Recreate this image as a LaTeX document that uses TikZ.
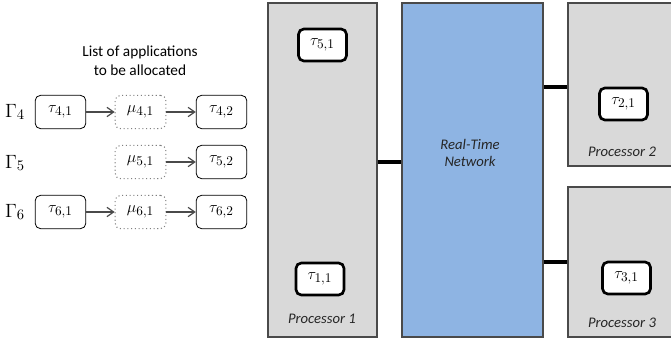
\documentclass[tikz,border=0pt]{standalone}
\usepackage{fontspec}
\setmainfont{Carlito}
\usetikzlibrary{arrows.meta}
\DeclareMathSizes{13}{13}{10}{8}

\definecolor{procgray}{HTML}{D9D9D9}
\definecolor{netblue}{HTML}{8EB4E3}
\definecolor{edgegray}{HTML}{4A4A4A}

\tikzset{
  proc/.style={draw=edgegray, fill=procgray, line width=0.8pt, inner sep=0pt},
  netbox/.style={draw=edgegray, fill=netblue, line width=0.8pt, inner sep=0pt},
  task/.style={draw=black, fill=white, rounded corners=4pt, line width=2pt,
    minimum width=36pt, minimum height=24pt, inner sep=0pt,
    font=\fontsize{13}{15}\selectfont},
  apptask/.style={draw=black, rounded corners=4pt, line width=0.6pt,
    minimum width=38pt, minimum height=25pt, inner sep=0pt,
    font=\fontsize{13}{15}\selectfont},
  msg/.style={draw=gray, dotted, rounded corners=4pt, line width=0.8pt,
    minimum width=38pt, minimum height=25pt, inner sep=0pt,
    font=\fontsize{13}{15}\selectfont},
  flow/.style={draw=edgegray, line width=0.9pt, -{Straight Barb[length=5pt,width=7pt]}},
  link/.style={line width=3pt, black},
  plabel/.style={font=\fontsize{11}{13}\selectfont\itshape, text=black!85},
}

\begin{document}
\begin{tikzpicture}[x=0.75pt, y=-0.75pt]
\useasboundingbox (0,0) rectangle (671,338);

% Processors and network
\node[proc, minimum width=81.75pt, minimum height=250.5pt] (p1) at (322.5,170) {};
\node[netbox, minimum width=105.75pt, minimum height=250.5pt] (net) at (472.5,170) {};
\node[proc, minimum width=78.75pt, minimum height=122.25pt] (p2) at (620.5,84.5) {};
\node[proc, minimum width=78.75pt, minimum height=112.5pt] (p3) at (620.5,262) {};

\node[plabel, align=center] (netlbl) at (470,153) {Real-Time\\Network};
\node[plabel] (p1lbl) at (322,319) {Processor 1};
\node[plabel] (p2lbl) at (622,152) {Processor 2};
\node[plabel] (p3lbl) at (622,323) {Processor 3};

% Links
\draw[link] ([yshift=6pt]p1.east) -- ([yshift=6pt]p1.east -| net.west);
\draw[link] ([yshift=-2pt]p2.west -| net.east) -- ([yshift=-2pt]p2.west);
\draw[link] (p3.west -| net.east) -- (p3.west);

% Allocated tasks
\node[task] (t51) at (322.5,45) {$\tau_{5,1}$};
\node[task] (t11) at (320,279) {$\tau_{1,1}$};
\node[task] (t21) at (623.5,104) {$\tau_{2,1}$};
\node[task] (t31) at (626.5,278) {$\tau_{3,1}$};

% Applications to be allocated
\node[align=center, font=\fontsize{11.5}{14}\selectfont] (title) at (140,61)
  {List of applications\\to be allocated};

\node[font=\fontsize{15}{17}\selectfont] (g4) at (15,112) {$\Gamma_4$};
\node[font=\fontsize{15}{17}\selectfont] (g5) at (15,163) {$\Gamma_5$};
\node[font=\fontsize{15}{17}\selectfont] (g6) at (15,212) {$\Gamma_6$};

\node[apptask] (a41) at (60.5,112) {$\tau_{4,1}$};
\node[msg] (m41) at (140.5,112) {$\mu_{4,1}$};
\node[apptask] (a42) at (221.5,112) {$\tau_{4,2}$};

\node[msg] (m51) at (140.5,162) {$\mu_{5,1}$};
\node[apptask] (a52) at (221.5,162) {$\tau_{5,2}$};

\node[apptask] (a61) at (60.5,212) {$\tau_{6,1}$};
\node[msg] (m61) at (140.5,212) {$\mu_{6,1}$};
\node[apptask] (a62) at (221.5,212) {$\tau_{6,2}$};

\draw[flow] (a41) -- (m41);
\draw[flow] (m41) -- (a42);
\draw[flow] (m51) -- (a52);
\draw[flow] (a61) -- (m61);
\draw[flow] (m61) -- (a62);

\end{tikzpicture}
\end{document}
